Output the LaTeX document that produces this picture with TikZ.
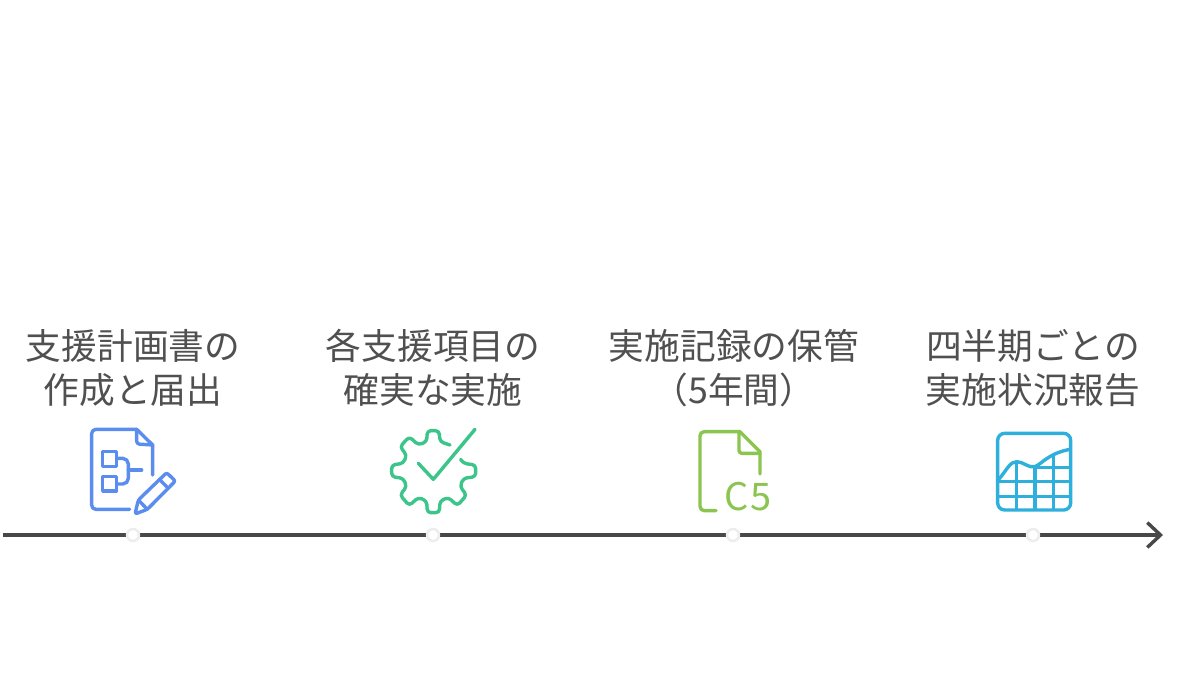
\documentclass[tikz,border=0pt]{standalone}
\usepackage{fontspec}
\setmainfont{Noto Sans CJK JP}
\usetikzlibrary{arrows.meta}
\definecolor{inkgray}{HTML}{505050}
\definecolor{axisgray}{HTML}{484848}
\definecolor{dotgray}{HTML}{EDEDED}
\definecolor{iconblue}{HTML}{5B8DEF}
\definecolor{icongreen}{HTML}{3CC58A}
\definecolor{iconlime}{HTML}{8CC450}
\definecolor{iconcyan}{HTML}{2FB0DC}
\tikzset{
  steplabel/.style={text=inkgray,align=center,font=\fontsize{25.4}{31.3}\selectfont,inner sep=0pt},
  stepdot/.style={circle,draw=dotgray,fill=white,line width=0.06cm,minimum size=0.3cm,inner sep=0pt},
  axisline/.style={draw=axisgray,line width=0.085cm,-{Straight Barb[length=0.33cm,width=0.62cm]}},
  iconline/.style={line width=0.085cm,line cap=round,line join=round},
  iconbox/.style={x=0.00833cm,y=-0.00833cm}
}
\begin{document}
\begin{tikzpicture}[x=0.025cm,y=-0.025cm]
\useasboundingbox (0,0) rectangle (1200,675);
\fill[white] (0,0) rectangle (1200,675);

\node[steplabel] (plan) at (133,368) {支援計画書の\\作成と届出};
\node[steplabel] (action) at (433,368) {各支援項目の\\確実な実施};
\node[steplabel] (record) at (734,368) {実施記録の保管\\（5年間）};
\node[steplabel] (report) at (1033,368) {四半期ごとの\\実施状況報告};

\coordinate (axisstart) at (3,535);
\coordinate (axisend) at (1163,535);
\draw[axisline] (axisstart) -- (axisend);

\node[stepdot] (dotplan) at (133,535) {};
\node[stepdot] (dotaction) at (433,535) {};
\node[stepdot] (dotrecord) at (733,535) {};
\node[stepdot] (dotreport) at (1033,535) {};

% document with pencil
\begin{scope}[shift={(70,420)},iconbox,iconline,draw=iconblue]
\draw[rounded corners=3pt] (179,268) -- (65,268) -- (65,28) -- (200,28);
\draw (200,28) -- (248,75) -- (248,165);
\draw[rounded corners=2pt] (200,28) -- (200,72) -- (248,75);
\draw (98,95) rectangle (140,140);
\draw (98,170) rectangle (140,213);
\draw[rounded corners=4pt] (140,115) -- (175,115) -- (175,192) -- (140,192);
\draw (175,150) -- (215,150);
\draw[rounded corners=1.5pt] (195,282) -- (205,240) -- (290,158) -- (316,183) -- (232,268) -- cycle;
\draw (268,178) -- (294,204);
\draw (205,240) -- (232,268);
\end{scope}

% gear with check
\begin{scope}[shift={(370,420)},iconbox,iconline,draw=icongreen]
\draw[rounded corners=2.5pt] (240,75) -- (210,65) -- (207,32) -- (172,32) -- (170,65) -- (145,75)
  -- (118,50) -- (90,80) -- (110,105) -- (100,130) -- (65,135) -- (65,170) -- (100,175)
  -- (110,200) -- (90,225) -- (118,257) -- (145,232) -- (170,243) -- (172,278) -- (208,278)
  -- (210,243) -- (235,232) -- (262,257) -- (290,225) -- (270,200) -- (280,175) -- (317,170)
  -- (317,135) -- (280,130) -- (272,118);
\draw (145,130) -- (190,178) -- (315,28);
\end{scope}

% file with code
\begin{scope}[shift={(670,420)},iconbox,iconline,draw=iconlime]
\draw[rounded corners=3pt] (138,272) -- (90,272) -- (90,35) -- (210,35);
\draw (210,35) -- (270,95) -- (270,162);
\draw[rounded corners=2pt] (207,35) -- (207,100) -- (270,100);
\node[text=iconlime,inner sep=0pt,font=\fontsize{27}{27}\selectfont] (codelabel) at (235,230) {C\kern1pt 5};
\end{scope}

% table with chart
\begin{scope}[shift={(970,420)},iconbox,iconline,draw=iconcyan]
\draw[rounded corners=5pt] (83,40) rectangle (302,270);
\draw (88,176) .. controls (110,150) and (120,125) .. (140,125) .. controls (160,125) and (175,145) .. (195,140) .. controls (215,132) and (235,100) .. (300,88);
\draw (88,184) -- (300,184);
\draw (85,229) -- (300,229);
\draw (192,143) -- (300,143);
\draw (140,128) -- (140,268);
\draw (195,140) -- (195,268);
\draw (250,105) -- (250,268);
\end{scope}
\end{tikzpicture}
\end{document}
